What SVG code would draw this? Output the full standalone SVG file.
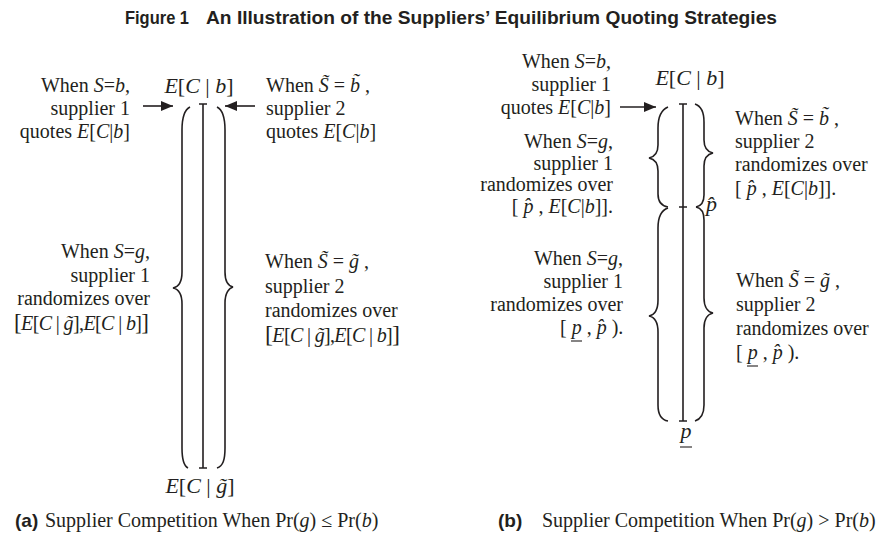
<svg xmlns="http://www.w3.org/2000/svg" width="889" height="534" viewBox="0 0 889 534">
<defs>
<marker id="ah" viewBox="0 0 12 10" refX="12" refY="5" markerWidth="12" markerHeight="10" markerUnits="userSpaceOnUse" orient="auto">
<path d="M0,0 L12,5 L0,10 Z" fill="#231f20"/>
</marker>
<style>
.t{font-family:"Liberation Serif","Times New Roman",serif;font-size:20px;fill:#231f20}
.m{font-family:"Liberation Serif","Times New Roman",serif;font-size:22px;fill:#231f20}
.i{font-style:italic}
.e{text-anchor:end}
.c{text-anchor:middle}
.ul{fill:none;stroke:#231f20;stroke-width:1.1}
.ln{fill:none;stroke:#231f20;stroke-width:1.6}
.ar{fill:none;stroke:#231f20;stroke-width:1.6;marker-end:url(#ah)}
.cap{font-family:"Liberation Sans",Arial,sans-serif;font-weight:bold;fill:#231f20}
</style>
</defs>
<rect width="889" height="534" fill="#fff"/>

<g id="title">
<text class="cap" x="125" y="24" font-size="19" textLength="64" lengthAdjust="spacingAndGlyphs">Figure 1</text>
<text class="cap" x="206" y="24" font-size="19" textLength="571" lengthAdjust="spacingAndGlyphs">An Illustration of the Suppliers’ Equilibrium Quoting Strategies</text>
</g>

<!-- Panel (a) -->
<g id="a-scale">
<path class="ln" d="M203,104 V468 M199,104 H207 M199,468 H207"/>
<path class="ln" d="M190,107 C184,110 182,118 182,130 L182,272 C182,282 178,287 173,288 C178,289 182,294 182,304 L182,448 C182,460 184,466 188,468"/>
<path class="ln" d="M217,107 C223,110 225,118 225,130 L225,272 C225,282 229,286 233,287 C229,288 225,293 225,303 L225,448 C225,460 223,466 217,468"/>
</g>
<g id="a-top-label"><text class="m c" x="199" y="93"><tspan class="i">E</tspan>[<tspan class="i">C</tspan> | <tspan class="i">b</tspan>]</text></g>
<g id="a-bottom-label"><text class="m c" x="200" y="493"><tspan class="i">E</tspan>[<tspan class="i">C</tspan> | <tspan class="i">g̃</tspan>]</text></g>
<g id="a-s1-b">
<text class="t e" x="130" y="92">When <tspan class="i">S</tspan>=<tspan class="i">b</tspan>,</text>
<text class="t e" x="130" y="115">supplier 1</text>
<text class="t e" x="130" y="138">quotes <tspan class="i">E</tspan>[<tspan class="i">C</tspan>|<tspan class="i">b</tspan>]</text>
</g>
<g id="a-s2-b">
<text class="t" x="266" y="92">When  <tspan class="i">S̃</tspan> = <tspan class="i">b̃</tspan> ,</text>
<text class="t" x="266" y="115">supplier 2</text>
<text class="t" x="266" y="138">quotes <tspan class="i">E</tspan>[<tspan class="i">C</tspan>|<tspan class="i">b</tspan>]</text>
</g>
<g id="a-s1-g">
<text class="t e" x="150" y="258">When <tspan class="i">S</tspan>=<tspan class="i">g</tspan>,</text>
<text class="t e" x="150" y="282">supplier 1</text>
<text class="t e" x="150" y="305">randomizes over</text>
<text class="t e" x="149" y="330" font-size="17" textLength="135"><tspan font-size="23">[</tspan><tspan class="i">E</tspan>[<tspan class="i">C</tspan> | <tspan class="i">g̃</tspan>],<tspan class="i">E</tspan>[<tspan class="i">C</tspan> | <tspan class="i">b</tspan>]<tspan font-size="23">]</tspan></text>
</g>
<g id="a-s2-g">
<text class="t" x="265" y="268">When <tspan class="i">S̃</tspan> = <tspan class="i">g̃</tspan> ,</text>
<text class="t" x="265" y="293">supplier 2</text>
<text class="t" x="265" y="317">randomizes over</text>
<text class="t" x="265" y="342" font-size="17" textLength="135"><tspan font-size="24">[</tspan><tspan class="i">E</tspan>[<tspan class="i">C</tspan> | <tspan class="i">g̃</tspan>],<tspan class="i">E</tspan>[<tspan class="i">C</tspan> | <tspan class="i">b</tspan>]<tspan font-size="24">]</tspan></text>
</g>

<!-- Panel (b) -->
<g id="b-scale">
<path class="ln" d="M683,104 V421 M679,104 H687 M679,421 H687 M679,207 H687"/>
<path class="ln" d="M668,107 C661,110 658,117 658,128 L658,145 C658,153 654,157 649,158 C654,159 658,163 658,171 L658,194 C658,202 662,206 668,207"/>
<path class="ln" d="M668,208 C662,210 658,216 658,228 L658,300 C658,310 654,315 649,316 C654,317 658,322 658,332 L658,405 C658,415 662,420 668,421"/>
<path class="ln" d="M695,104 C701,106 704,112 704,122 L704,140 C704,148 708,152 713,153 C708,154 704,158 704,166 L704,195 C704,202 701,206 696,207"/>
<path class="ln" d="M696,207 C701,208 704,212 704,220 L704,298 C704,307 708,312 713,313 C708,314 704,319 704,328 L704,405 C704,414 701,419 695,421"/>
</g>
<g id="b-top-label"><text class="m c" x="690" y="85"><tspan class="i">E</tspan>[<tspan class="i">C</tspan> | <tspan class="i">b</tspan>]</text></g>
<g id="b-phat-label"><text class="m i" x="706" y="211">p̂</text></g>
<g id="b-bottom-label">
<text class="m i c" x="686" y="438">p</text>
<path class="ul" d="M680,447 H692"/>
</g>
<g id="b-s1-b">
<text class="t e" x="611" y="68">When <tspan class="i">S</tspan>=<tspan class="i">b</tspan>,</text>
<text class="t e" x="611" y="91">supplier 1</text>
<text class="t e" x="611" y="114">quotes <tspan class="i">E</tspan>[<tspan class="i">C</tspan>|<tspan class="i">b</tspan>]</text>
</g>
<g id="b-s1-g-high">
<text class="t e" x="613" y="148">When <tspan class="i">S</tspan>=<tspan class="i">g</tspan>,</text>
<text class="t e" x="613" y="170">supplier 1</text>
<text class="t e" x="613" y="191">randomizes over</text>
<text class="t e" x="613" y="213">[ <tspan class="i">p̂</tspan> , <tspan class="i">E</tspan>[<tspan class="i">C</tspan>|<tspan class="i">b</tspan>]].</text>
</g>
<g id="b-s2-b">
<text class="t" x="735" y="125">When  <tspan class="i">S̃</tspan> = <tspan class="i">b̃</tspan> ,</text>
<text class="t" x="735" y="148">supplier 2</text>
<text class="t" x="735" y="171">randomizes over</text>
<text class="t" x="735" y="195">[ <tspan class="i">p̂</tspan> , <tspan class="i">E</tspan>[<tspan class="i">C</tspan>|<tspan class="i">b</tspan>]].</text>
</g>
<g id="b-s1-g-low">
<text class="t e" x="623" y="265">When <tspan class="i">S</tspan>=<tspan class="i">g</tspan>,</text>
<text class="t e" x="623" y="288">supplier 1</text>
<text class="t e" x="623" y="311">randomizes over</text>
<text class="t" x="560" y="334">[ <tspan class="i">p</tspan> , <tspan class="i">p̂</tspan> ).</text>
<path class="ul" d="M571,341 H582"/>
</g>
<g id="b-s2-g">
<text class="t" x="736" y="287">When  <tspan class="i">S̃</tspan> = <tspan class="i">g̃</tspan> ,</text>
<text class="t" x="736" y="311">supplier 2</text>
<text class="t" x="736" y="335">randomizes over</text>
<text class="t" x="736" y="359">[ <tspan class="i">p</tspan> , <tspan class="i">p̂</tspan> ).</text>
<path class="ul" d="M747,366 H758"/>
</g>

<g id="connectors">
<path class="ar" d="M143,106 H173"/>
<path class="ar" d="M255,106 H225"/>
<path class="ar" d="M620,107 H656"/>
</g>

<g id="captions">
<text class="cap" x="15" y="527" font-size="19">(a)</text>
<text class="t" x="45" y="527">Supplier Competition When Pr(<tspan class="i">g</tspan>) ≤ Pr(<tspan class="i">b</tspan>)</text>
<text class="cap" x="498" y="527" font-size="19">(b)</text>
<text class="t" x="542" y="527">Supplier Competition When Pr(<tspan class="i">g</tspan>) &gt; Pr(<tspan class="i">b</tspan>)</text>
</g>
</svg>
